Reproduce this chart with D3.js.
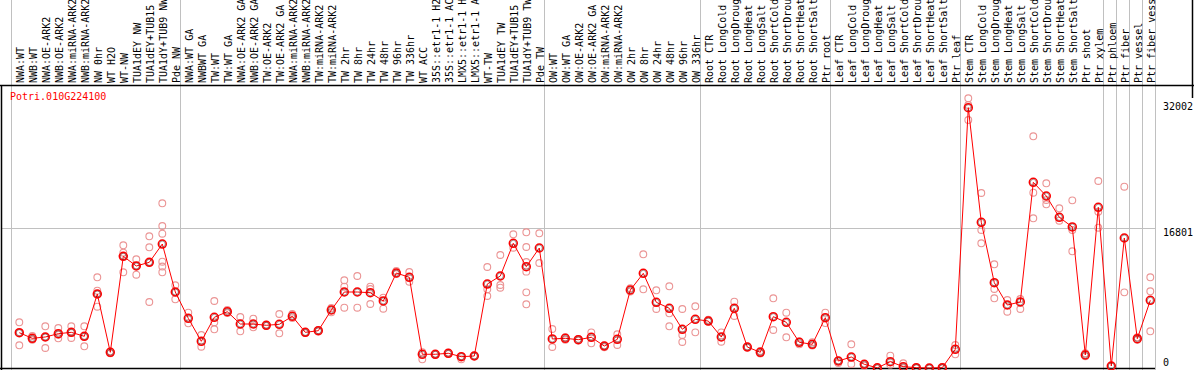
<!DOCTYPE html>
<html lang="en">
<head>
<meta charset="UTF-8">
<title>Potri.010G224100</title>
<script src="https://d3js.org/d3.v7.min.js"></script>
<style>
  body { margin: 0; padding: 0; background: #fff; }
  svg { display: block; font-family: "DejaVu Sans Mono", monospace; font-size: 10px; }
</style>
</head>
<body>
<div id="chart"></div>
<script>
const geneName = "Potri.010G224100";

const samples = [
  "NWA:WT", "NWB:WT", "NWA:OE-ARK2", "NWB:OE-ARK2", "NWA:miRNA-ARK2", "NWB:miRNA-ARK2",
  "NW 0hr", "WT H2O", "WT-NW", "TUA1dEY NW", "TUA1dEY+TUB15 NW", "TUA1dY+TUB9 NW", "Pde NW",
  "NWA:WT GA", "NWBWT GA", "TW:WT", "TW:WT GA", "NWA:OE-ARK2 GA", "NWB:OE-ARK2 GA",
  "TW:OE-ARK2", "TW:OE-ARK2 GA", "NWA:miRNA-ARK2", "NWB:miRNA-ARK2", "TW:miRNA-ARK2", "TW:miRNA-ARK2",
  "TW 2hr", "TW 8hr", "TW 24hr", "TW 48hr", "TW 96hr", "TW 336hr", "WT ACC",
  "35S::etr1-1 H2O", "35S::etr1-1 ACC", "LMX5::etr1-1 H2O", "LMX5::etr1-1 ACC",
  "WT-TW", "TUA1dEY TW", "TUA1dEY+TUB15 TW", "TUA1dY+TUB9 TW", "Pde TW",
  "OW:WT", "OW:WT GA", "OW:OE-ARK2", "OW:OE-ARK2 GA", "OW:miRNA-ARK2", "OW:miRNA-ARK2",
  "OW 2hr", "OW 8hr", "OW 24hr", "OW 48hr", "OW 96hr", "OW 336hr",
  "Root CTR", "Root LongCold", "Root LongDrought", "Root LongHeat", "Root LongSalt",
  "Root ShortCold", "Root ShortDrought", "Root ShortHeat", "Root ShortSalt", "Ptr root",
  "Leaf CTR", "Leaf LongCold", "Leaf LongDrought", "Leaf LongHeat", "Leaf LongSalt",
  "Leaf ShortCold", "Leaf ShortDrought", "Leaf ShortHeat", "Leaf ShortSalt", "Ptr leaf",
  "Stem CTR", "Stem LongCold", "Stem LongDrought", "Stem LongHeat", "Stem LongSalt",
  "Stem ShortCold", "Stem ShortDrought", "Stem ShortHeat", "Stem ShortSalt",
  "Ptr shoot", "Ptr xylem", "Ptr phloem", "Ptr fiber", "Ptr vessel", "Ptr fiber vessel"
];

// number of samples in each experiment block
const groupSizes = [13, 28, 12, 10, 10, 11, 1, 1, 1, 1];

const means = [
  4245, 3570, 3730, 4125, 4290, 3810, 8900, 1890, 13430, 12270, 12710, 14910, 9140,
  5975, 3210, 6095, 6770, 5290, 5290, 5135, 5255, 6220, 4290, 4485, 6975,
  9140, 9140, 9055, 8060, 11425, 10910, 1650, 1650, 1770, 1360, 1445,
  10100, 11065, 14995, 12185, 14430,
  3490, 3570, 3405, 3690, 2645, 3450, 9380, 11385, 7900, 7180, 4655, 5855,
  5650, 3730, 7180, 2525, 1890, 6170, 5495, 3090, 2850, 6050,
  840, 1320, 445, 20, 760, 160, 40, 0, 40, 2250,
  31305, 17520, 10260, 7575, 7940, 22330, 20685, 18125, 16960,
  1565, 19325, 240, 15635, 3525, 8140
];

const replicates = [
  [5495, 4245, 2730], [3850, 3450, 3400], [5015, 3730, 2405], [4810, 3570, 4000],
  [5015, 3610, 4250], [5015, 2610, 3800], [10910, 9300, 7370, 8900], [1770, 2000],
  [14755, 13870, 11510, 13430], [13070, 11220, 12300], [15840, 14515, 7940, 12710],
  [19810, 17080, 16150, 12785, 12200, 11510], [9945, 8260, 9140],
  [6650, 5375], [3970, 2560], [8060, 4655, 5500], [6975, 6600], [6135, 4415],
  [5930, 4895], [5200, 5080], [6495, 4175], [6495, 6000], [4290, 4200], [4400, 4550],
  [7215, 6700], [10545, 9780, 7250], [11065, 7250], [9780, 7695, 9500], [8455, 7130],
  [11665, 11300], [11545, 10380], [1900, 1045], [1700, 1600], [1850, 1700], [1045, 1400],
  [1500, 1400], [12145, 9465, 8660], [13590, 9980, 9660], [16080, 14470],
  [16320, 14550, 12750, 11585, 9100, 7660], [16200, 12630],
  [4690, 2525], [3700, 3400], [3300, 3500], [4290, 2970], [2500, 2700], [4050, 2765],
  [9600, 9200], [13675, 9465], [9345, 7095], [9825, 6580, 5015], [7095, 3970, 3125],
  [7420, 4290],
  [5800, 5600], [4290, 3165], [7975, 6255], [2600, 2450], [2050, 1750], [8385, 4570],
  [6650, 3690], [3200, 2850], [3100, 2700], [6650, 5400],
  [600, 900], [2850, 480], [500, 300], [0, 50], [1480, 400], [565, 0], [0, 80], [0],
  [0, 100], [2765, 1650],
  [32435, 31630, 29825], [21045, 16595, 14995], [12470, 9500, 8385], [8180, 6770],
  [8300, 7095], [27865, 21085, 18005], [22210, 20205, 19690], [19205, 17715],
  [20165, 16595, 14035], [1770, 1400], [22490, 18800, 16875], [240], [21805, 9100],
  [3690, 3400], [10910, 9225, 4415]
];

const yTicks = [0, 16801, 32002];
const yGrid = [16801];

const width = 1194, height = 370;
const headerH = 86;
const plotLeft = 11, plotRight = 1155, plotBottom = 368;

const svg = d3.select("#chart").append("svg")
  .attr("width", width)
  .attr("height", height);

const x = d3.scaleBand()
  .domain(d3.range(samples.length))
  .range([plotLeft, plotLeft + samples.length * 13]);

const cx = i => x(i) + 8.3;

const y = d3.scaleLinear()
  .domain([0, 33602])
  .range([plotBottom, 88.6]);

// group separators
let starts = [0];
groupSizes.forEach(s => starts.push(starts[starts.length - 1] + s));
const sepX = starts.map(s => s < samples.length ? x(s) : x.range()[1]);

svg.append("g")
  .selectAll("line")
  .data(sepX)
  .join("line")
  .attr("x1", d => Math.round(d) + 0.5)
  .attr("x2", d => Math.round(d) + 0.5)
  .attr("y1", 0)
  .attr("y2", height)
  .attr("stroke", "#c0c0c0")
  .attr("stroke-width", 1);

// horizontal grid
svg.append("g")
  .selectAll("line")
  .data(yGrid)
  .join("line")
  .attr("x1", 1)
  .attr("x2", plotRight)
  .attr("y1", d => Math.round(y(d)) + 0.5)
  .attr("y2", d => Math.round(y(d)) + 0.5)
  .attr("stroke", "#c0c0c0");

// frame
svg.append("line").attr("x1", 0).attr("x2", width).attr("y1", headerH - 0.5).attr("y2", headerH - 0.5)
  .attr("stroke", "#000").attr("stroke-width", 1.5);
svg.append("line").attr("x1", 1.5).attr("x2", 1.5).attr("y1", headerH).attr("y2", height)
  .attr("stroke", "#000").attr("stroke-width", 1.5);
svg.append("line").attr("x1", 0).attr("x2", plotRight).attr("y1", height - 1.5).attr("y2", height - 1.5)
  .attr("stroke", "#000").attr("stroke-width", 1.5);
svg.append("line").attr("x1", width - 1.5).attr("x2", width - 1.5).attr("y1", 0).attr("y2", 98)
  .attr("stroke", "#000").attr("stroke-width", 1.5);

// sample labels
svg.append("g")
  .selectAll("text")
  .data(samples)
  .join("text")
  .attr("transform", (d, i) => `translate(${cx(i) + 4.6},83) rotate(-90)`)
  .attr("fill", "#000")
  .text(d => d.slice(0, 14));

// y labels
svg.append("g")
  .selectAll("text")
  .data(yTicks)
  .join("text")
  .attr("x", 1163)
  .attr("y", d => Math.min(y(d) + 8, 366))
  .attr("fill", "#000")
  .text(d => d);

// gene name
svg.append("text")
  .attr("x", 10)
  .attr("y", 100)
  .attr("fill", "#f00")
  .text(geneName);

// replicate points
const repData = replicates.flatMap((r, i) => r.map(v => ({ i, v })));
svg.append("g")
  .selectAll("circle")
  .data(repData)
  .join("circle")
  .attr("cx", d => cx(d.i))
  .attr("cy", d => y(d.v))
  .attr("r", 3.4)
  .attr("fill", "none")
  .attr("stroke", "#eb9595")
  .attr("stroke-width", 1.1);

// mean line
const line = d3.line()
  .x((d, i) => cx(i))
  .y(d => y(d));

svg.append("path")
  .datum(means)
  .attr("d", line)
  .attr("fill", "none")
  .attr("stroke", "#f00")
  .attr("stroke-width", 1);

const mg = svg.append("g")
  .selectAll("g")
  .data(means)
  .join("g")
  .attr("transform", (d, i) => `translate(${cx(i)},${y(d)})`);

mg.append("circle")
  .attr("r", 4)
  .attr("fill", "none")
  .attr("stroke", "#f00")
  .attr("stroke-width", 1.5);

mg.append("circle")
  .attr("r", 3)
  .attr("fill", "none")
  .attr("stroke", "#300")
  .attr("stroke-width", 0.6)
  .attr("stroke-opacity", 0.7);
</script>
</body>
</html>
